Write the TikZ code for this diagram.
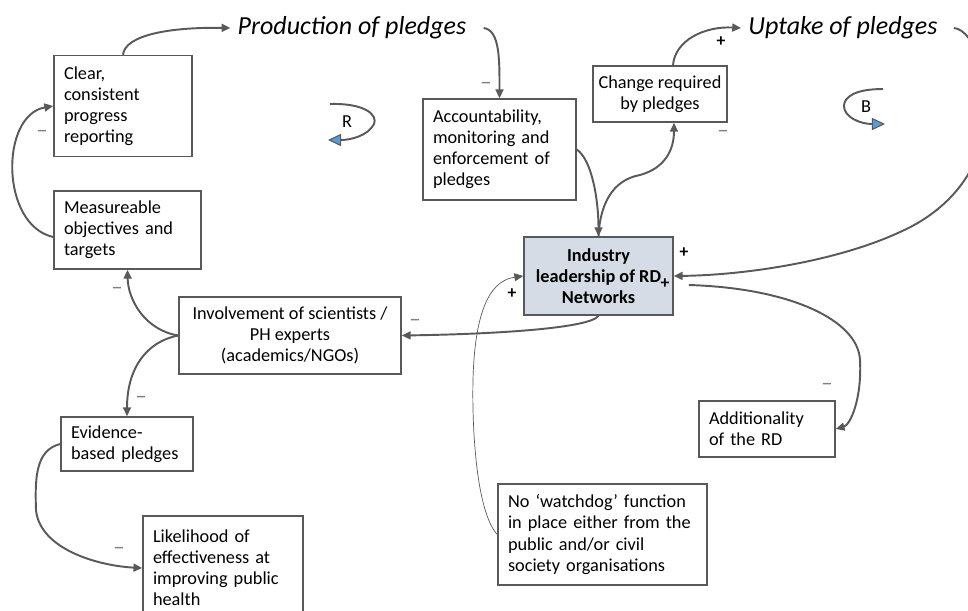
\documentclass[tikz,border=0pt]{standalone}
\usepackage{fontspec}
\setmainfont{Carlito}
\usepackage{tikz}
\usetikzlibrary{calc,arrows.meta}
\definecolor{linegray}{HTML}{595959}
\definecolor{indfill}{HTML}{D6DCE5}
\definecolor{loopblue}{HTML}{5B9BD5}

\begin{document}
\begin{tikzpicture}[x=0.02cm,y=-0.02cm,
  font=\fontsize{10.4}{12}\selectfont,
  box/.style={draw=linegray,line width=0.9pt,inner sep=0pt,align=left},
  cbox/.style={box,align=center},
  link/.style={draw=linegray,line width=1.1pt,-{Triangle[length=5pt,width=4.5pt]}},
  title/.style={font=\fontsize{14.8}{16}\selectfont\itshape,inner sep=4pt},
  minus/.style={text=gray,inner sep=0pt,font=\fontsize{13}{14}\selectfont},
  plus/.style={font=\bfseries,inner sep=0pt},
  loopsign/.style={draw=linegray,line width=1.1pt,-{Triangle[length=7.5pt,width=7pt,line width=0.6pt,fill=loopblue]}}]
  \useasboundingbox (0,0) rectangle (968,610);

  % Loop titles
  \node[title] (prod) at (352,28) {Production of pledges};
  \node[title] (uptake) at (843,28) {Uptake of pledges};

  % Boxes
  \node[box,text width=2.36cm,minimum width=2.76cm,minimum height=2.02cm] (clear) at (123,106) {Clear,\\consistent\\progress\\reporting};
  \node[box,text width=2.54cm,minimum width=2.94cm,minimum height=1.56cm] (meas) at (127.5,230) {Measureable\\objectives and\\targets};
  \node[box,text width=2.66cm,minimum width=3.06cm,minimum height=2.02cm] (acc) at (499.5,149.5) {Accountability,\\monitoring and\\enforcement of\\pledges};
  \node[cbox,minimum width=2.68cm,minimum height=1.12cm] (change) at (660,94) {Change required\\by pledges};
  \node[cbox,fill=indfill,font=\fontsize{10.4}{12}\selectfont\bfseries,minimum width=2.98cm,minimum height=1.56cm] (ind) at (598.5,276) {Industry\\leadership of RD\\Networks};
  \node[cbox,minimum width=4.44cm,minimum height=1.54cm] (inv) at (290,335.5) {Involvement of scientists /\\PH experts\\(academics/NGOs)};
  \node[box,text width=2.24cm,minimum width=2.64cm,minimum height=1.08cm] (evid) at (127,444) {Evidence-\\based pledges};
  \node[box,text width=2.8cm,minimum width=3.2cm,minimum height=2.08cm] (like) at (223,568) {Likelihood of\\effectiveness at\\improving public\\health};
  \node[box,text width=2.32cm,minimum width=2.72cm,minimum height=1.12cm] (add) at (767,429) {Additionality\\of the RD};
  \node[box,text width=3.78cm,minimum width=4.18cm,minimum height=2.02cm] (watch) at (602.5,534.5) {No `watchdog' function\\in place either from the\\public and/or civil\\society organisations};

  % Loop markers
  \node (loopR) at (347,122) {R};
  \node (loopB) at (866,107) {B};
  \draw[loopsign] ($(loopR)+(-17,-18)$) .. controls ($(loopR)+(18,-19)$) and ($(loopR)+(31,-7)$) .. ($(loopR)+(27,2)$)
    .. controls ($(loopR)+(21,14)$) and ($(loopR)+(3,18)$) .. ($(loopR)+(-19,18)$);
  \draw[loopsign] ($(loopB)+(17,-18)$) .. controls ($(loopB)+(-11,-18)$) and ($(loopB)+(-22,-10)$) .. ($(loopB)+(-22,-1)$)
    .. controls ($(loopB)+(-22,10)$) and ($(loopB)+(-6,17)$) .. ($(loopB)+(19,17)$);

  % Links
  \draw[link] (clear.north) .. controls (125,35) and (170,27) .. (prod.west);
  \draw[link] ($(meas.west)+(0,7)$) .. controls (0,225) and (0,115) .. (clear.west);
  \draw[link] (inv.west) .. controls (145,330) and (128,300) .. (meas.south);
  \draw[link] (inv.west) .. controls (145,342) and (127,370) .. (evid.north);
  \draw[link] (evid.west) .. controls (35,450) and (35,480) .. (36,510)
    .. controls (40,550) and (100,566) .. (like.west);
  \draw[link] ($(prod.east)+(10,0)$) .. controls (500,30) and (499.5,60) .. (acc.north);
  \draw[link] (acc.east) .. controls (592,160) and (598.5,200) .. (ind.north);
  \draw[link] (ind.north) .. controls (600,205) and (612,180) .. (640,175)
    .. controls (665,168) and (674,150) .. ($(change.south)+(14,0)$);
  \draw[link] ($(change.north)+(13,0)$) .. controls (675,40) and (705,26) .. (uptake.west);
  \draw[link] ($(uptake.east)+(9,0)$) .. controls (975,30) and (990,80) .. (985,125)
    .. controls (980,170) and (950,210) .. (900,232)
    .. controls (840,260) and (750,275) .. (ind.east);
  \draw[link] (ind.south) .. controls (590,328) and (500,334) .. (inv.east);
  \draw[link] ($(ind.east)+(15,9)$) .. controls (790,288) and (858,320) .. (860,360)
    .. controls (862,400) and (850,425) .. (add.east);
  \draw[link,line width=0.4pt] (watch.west) .. controls (475,510) and (472,420) .. (473,380)
    .. controls (475,300) and (495,280) .. (ind.west);

  % Signs
  \node[minus] (m1) at (42,134) {--};
  \node[minus] (m2) at (117,291) {--};
  \node[minus] (m3) at (141,400) {--};
  \node[minus] (m4) at (119,551) {--};
  \node[minus] (m5) at (486,86) {--};
  \node[minus] (m6) at (723,134) {--};
  \node[minus] (m7) at (415,323) {--};
  \node[minus] (m8) at (827,387) {--};
  \node[plus] (p1) at (721,42) {+};
  \node[plus] (p2) at (684,253) {+};
  \node[plus] (p3) at (665,284) {+};
  \node[plus] (p4) at (512,294) {+};
\end{tikzpicture}
\end{document}
